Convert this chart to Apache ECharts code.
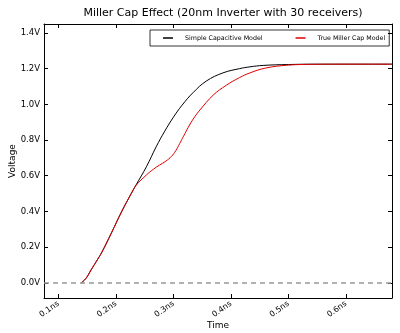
<!DOCTYPE html>
<html><head><meta charset="utf-8">
<script src="https://cdn.jsdelivr.net/npm/echarts@6/dist/echarts.min.js"></script>
<style>html,body{margin:0;padding:0;background:#fff}#c{width:400px;height:333px}</style>
</head><body><div id="c"></div>
<script>
var titleText = 'Miller Cap Effect (20nm Inverter with 30 receivers)';
var seriesNames = ['Simple Capacitive Model', 'True Miller Cap Model'];
var simpleT = [0.140,0.148,0.157,0.166,0.175,0.192,0.210,0.227,0.235,0.253,0.270,0.285,0.300,0.315,0.334,0.357,0.386,0.415,0.433,0.456,0.500,0.550,0.600,0.680];
var simpleV = [0.000,0.025,0.073,0.120,0.168,0.278,0.399,0.502,0.548,0.650,0.762,0.850,0.928,0.995,1.065,1.130,1.176,1.200,1.210,1.218,1.223,1.225,1.225,1.225];
var millerT = [0.140,0.148,0.157,0.166,0.175,0.192,0.210,0.227,0.235,0.253,0.265,0.276,0.287,0.2965,0.304,0.311,0.320,0.328,0.337,0.346,0.369,0.392,0.415,0.433,0.460,0.497,0.540,0.600,0.680];
var millerV = [0.000,0.025,0.073,0.120,0.168,0.278,0.399,0.502,0.546,0.604,0.636,0.660,0.682,0.708,0.740,0.781,0.836,0.884,0.930,0.968,1.051,1.107,1.150,1.176,1.203,1.219,1.224,1.225,1.225];
var baselineV = 0;
var xRange = [0.075, 0.68];
var yRange = [-0.085, 1.45];

function pairs(t, v){ return t.map(function(x,i){ return [x, v[i]]; }); }
function isGrid(v, step){ return Math.abs(v/step - Math.round(v/step)) < 1e-6; }

var font = 'DejaVu Sans';
var chart = echarts.init(document.getElementById('c'), null, {renderer:'canvas'});
var axisCommon = {
  axisLine: {show:true, onZero:false, lineStyle:{color:'#000', width:1}},
  axisTick: {show:true, inside:true, length:4, lineStyle:{color:'#000'}},
  splitLine: {show:false}
};
chart.setOption({
  animation: false,
  backgroundColor: '#fff',
  title: {text: titleText, left: 218, textAlign: 'center', top: 3,
    textStyle: {fontFamily: font, fontSize: 11, fontWeight: 'normal', color: '#000'}},
  grid: {left: 44, right: 8, top: 24, bottom: 35, containLabel: false, outerBoundsMode: 'none'},
  legend: {
    left: 150, top: 30, orient: 'horizontal',
    padding: [5, 4, 5, 13], itemGap: 33, itemWidth: 10, itemHeight: 1.5, icon: 'rect',
    borderColor: '#000', borderWidth: 0.8,
    textStyle: {fontFamily: font, fontSize: 6.3, color: '#000', padding: [0,0,0,7]},
    data: seriesNames
  },
  xAxis: [
    Object.assign({type:'value', min: xRange[0], max: xRange[1], splitNumber: 6, position:'bottom',
      name: 'Time', nameLocation: 'middle', nameGap: 23, nameMoveOverlap: false,
      nameTextStyle: {fontFamily: font, fontSize: 9, color:'#000'},
      axisLabel: {rotate: 35, margin: 5, fontFamily: font, fontSize: 8, color:'#000',
        showMinLabel: false, showMaxLabel: false,
        formatter: function(v){ return isGrid(v, 0.1) ? (+v.toFixed(1)) + 'ns' : ''; }}}, axisCommon),
    Object.assign({type:'value', min: xRange[0], max: xRange[1], splitNumber: 6, position:'top',
      axisLabel: {show:false}}, axisCommon)
  ],
  yAxis: [
    Object.assign({type:'value', min: yRange[0], max: yRange[1], splitNumber: 7, position:'left',
      name: 'Voltage', nameLocation: 'middle', nameGap: 27, nameMoveOverlap: false,
      nameTextStyle: {fontFamily: font, fontSize: 9, color:'#000'},
      axisLabel: {margin: 4, fontFamily: font, fontSize: 8.5, color:'#000',
        showMinLabel: false, showMaxLabel: false,
        formatter: function(v){ return isGrid(v, 0.2) ? v.toFixed(1) + 'V' : ''; }}}, axisCommon),
    Object.assign({type:'value', min: yRange[0], max: yRange[1], splitNumber: 7, position:'right',
      axisLabel: {show:false}}, axisCommon)
  ],
  series: [
    {name: seriesNames[0], type: 'line', data: pairs(simpleT, simpleV), smooth: 0.4,
      showSymbol: false, symbol: 'none', itemStyle: {color: '#000'},
      lineStyle: {color: '#000', width: 1},
      markLine: {silent: true, symbol: ['none','none'], label: {show:false},
        lineStyle: {color: '#999', type: [5,4], width: 1.5},
        data: [{yAxis: baselineV}]}},
    {name: seriesNames[1], type: 'line', data: pairs(millerT, millerV), smooth: 0.4,
      showSymbol: false, symbol: 'none', itemStyle: {color: '#e00000'},
      lineStyle: {color: '#e00000', width: 1}}
  ]
});
</script></body></html>
